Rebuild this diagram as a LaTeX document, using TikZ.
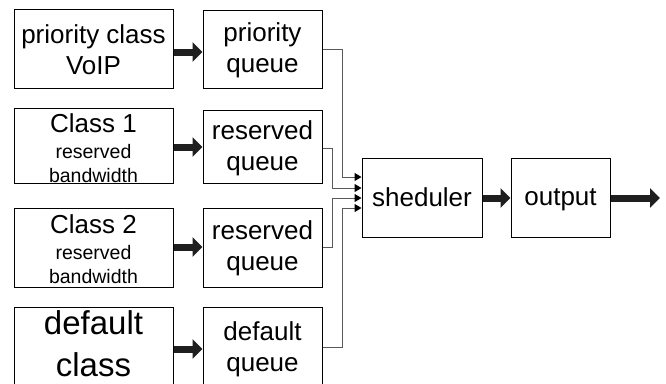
\documentclass[tikz,border=0pt]{standalone}
\usepackage{fontspec}
\setmainfont{Liberation Sans}
\usetikzlibrary{arrows.meta}
\tikzset{
  box/.style={draw=black, line width=1pt, inner sep=0pt},
  txt/.style={inner sep=0pt, align=center, font=\fontsize{26}{31}\selectfont},
  bigarrow/.style={draw=black!88, line width=7pt, -{Triangle[length=10pt,width=19pt]}},
  feed/.style={draw=black!65, line width=1pt, -{Triangle[length=7pt,width=8pt,color=black]}},
}
\newcommand{\smalltxt}[1]{{\fontsize{19.5}{23}\selectfont #1}}
\begin{document}
\begin{tikzpicture}[x=1pt,y=-1pt]
\clip (0,0) rectangle (666,383);
\fill[white] (0,0) rectangle (666,383);
% sources
\node[box, minimum width=159pt, minimum height=79pt] (a1) at (93.5,48.5) {};
\node[box, minimum width=159pt, minimum height=75pt] (a2) at (93.5,145.5) {};
\node[box, minimum width=159pt, minimum height=79pt] (a3) at (93.5,247.5) {};
\node[box, minimum width=159pt, minimum height=80pt] (a4) at (93.5,347) {};
\node[txt] (a1t) at ([yshift=-1pt]a1.center) {priority class\\VoIP};
\node[txt] (a2t) at ([yshift=-2.5pt]a2.center) {Class 1\\[-5pt]\smalltxt{reserved}\\[-7pt]\smalltxt{bandwidth}};
\node[txt] (a3t) at ([yshift=-2pt]a3.center) {Class 2\\[-5pt]\smalltxt{reserved}\\[-7pt]\smalltxt{bandwidth}};
\node[txt, font=\fontsize{33}{42}\selectfont] (a4t) at ([yshift=3pt]a4.center) {default\\class};
% queues
\node[box, minimum width=119pt, minimum height=78pt] (q1) at (262.5,49) {};
\node[box, minimum width=119pt, minimum height=73pt] (q2) at (262.5,146.5) {};
\node[box, minimum width=119pt, minimum height=79pt] (q3) at (262.5,247.5) {};
\node[box, minimum width=119pt, minimum height=78pt] (q4) at (262.5,346) {};
\node[txt] (q1t) at ([yshift=-1pt]q1.center) {priority\\queue};
\node[txt] (q2t) at ([yshift=-2pt]q2.center) {reserved\\queue};
\node[txt] (q3t) at ([yshift=-1pt]q3.center) {reserved\\queue};
\node[txt] (q4t) at ([yshift=-3pt]q4.center) {default\\queue};
% scheduler and output
\node[box, minimum width=120pt, minimum height=79pt] (s) at (422,197.5) {};
\node[box, minimum width=99pt, minimum height=79pt] (o) at (560.5,197.5) {};
\node[txt] (st) at (s.center) {sheduler};
\node[txt, text depth=0pt] (ot) at (o.center) {output};
\coordinate (end) at (660,198);
% thick arrows
\draw[bigarrow] (a1.east |- 0,52) -- (q1.west |- 0,52);
\draw[bigarrow] (a2.east |- 0,147) -- (q2.west |- 0,147);
\draw[bigarrow] (a3.east |- 0,247) -- (q3.west |- 0,247);
\draw[bigarrow] (a4.east |- 0,349) -- (q4.west |- 0,349);
\draw[bigarrow] (s.east |- 0,198) -- (o.west |- 0,198);
\draw[bigarrow] (o.east |- 0,198) -- (end);
% feeds into scheduler
\draw[feed] (q1.east |- 0,49) -| (342,177) -- (s.west |- 0,177);
\draw[feed] (q2.east |- 0,148) -| (332,188) -- (s.west |- 0,188);
\draw[feed] (q3.east |- 0,247) -| (332,198) -- (s.west |- 0,198);
\draw[feed] (q4.east |- 0,347) -| (342,208) -- (s.west |- 0,208);
\end{tikzpicture}
\end{document}
